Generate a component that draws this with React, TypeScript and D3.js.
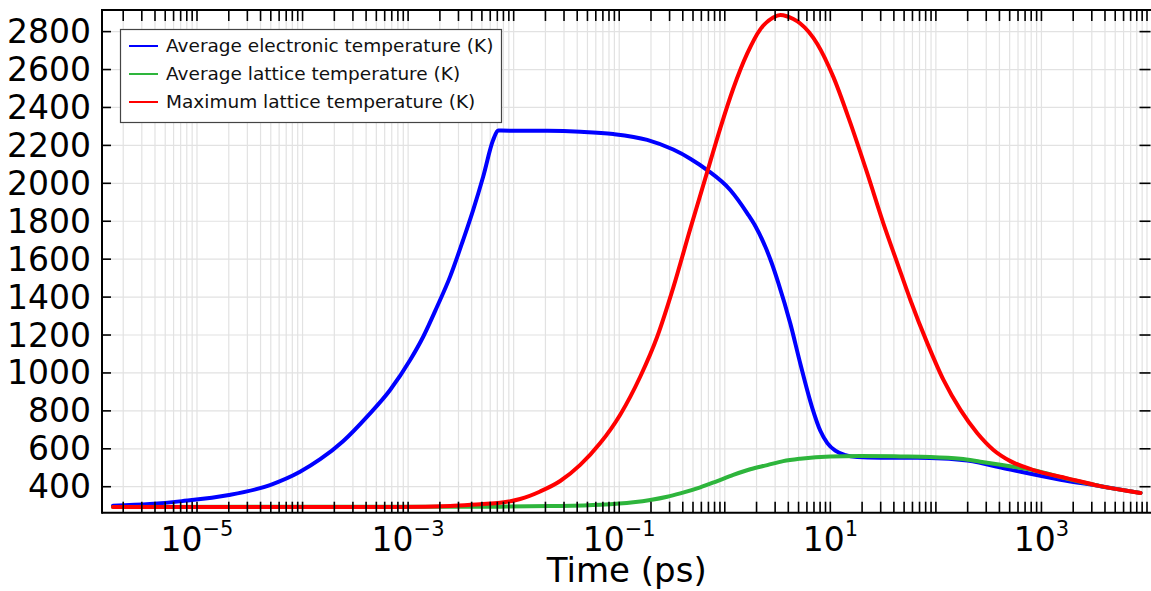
import React from 'react';
import * as d3 from 'd3';

// ---------- data (time in ps, temperature in K) ----------
const blueTime = [1.6e-6, 3.58e-6, 7.21e-6, 2.01e-5, 4.92e-5, 9.47e-5, 1.47e-4, 2.42e-4, 4.09e-4, 6.75e-4, 1.045e-3, 1.39e-3, 1.88e-3, 2.5e-3, 3.32e-3, 4.13e-3, 5.14e-3, 6.39e-3, 7.13e-3, 0.0208, 0.0427, 0.0877, 0.184, 0.325, 0.471, 0.682, 1.127, 1.634, 1.946, 2.317, 2.76, 3.215, 4.18, 5.19, 6.75, 8.04, 9.37, 11.15, 13.9, 18.0, 29.8, 88.7, 199, 508, 1514, 3624, 8680];
const blueTemp = [300, 309, 324, 356, 409, 479, 545, 640, 770, 910, 1068, 1191, 1349, 1508, 1701, 1859, 2035, 2228, 2278, 2277, 2272, 2260, 2229, 2178, 2130, 2070, 1965, 1842, 1775, 1690, 1585, 1475, 1260, 1050, 815, 695, 630, 590, 567, 557, 553, 552, 538, 490, 437, 403, 367];

const greenTime = [1.6e-6, 7.45e-3, 0.0222, 0.0661, 0.136, 0.197, 0.285, 0.379, 0.586, 0.849, 1.204, 1.745, 2.53, 3.58, 5.19, 10, 19.2, 46.1, 88.7, 171, 264, 409, 840, 1764, 3624, 8680];
const greenTemp = [293, 295, 298, 305, 318, 330, 347, 365, 397, 430, 462, 492, 514, 535, 548, 560, 562, 560, 557, 547, 532, 516, 487, 442, 403, 367];

const redTime = [1.6e-6, 8.4e-4, 2.5e-3, 4.81e-3, 7.45e-3, 0.01152, 0.01783, 0.0276, 0.0427, 0.0661, 0.1022, 0.158, 0.229, 0.325, 0.471, 0.682, 0.906, 1.204, 1.634, 2.17, 2.88, 3.36, 3.86, 4.46, 5.19, 7.53, 10.7, 15.5, 22.4, 31.8, 43.2, 57.3, 83.1, 118, 171, 247, 351, 508, 840, 1764, 3624, 8680];
const redTemp = [293, 293, 298, 308, 315, 335, 375, 430, 515, 630, 780, 980, 1191, 1450, 1760, 2060, 2290, 2500, 2685, 2812, 2874, 2887, 2881, 2866, 2843, 2735, 2560, 2317, 2052, 1789, 1578, 1385, 1156, 963, 805, 682, 594, 535, 488, 444, 403, 367];

const seriesNames = ['Average electronic temperature (K)', 'Average lattice temperature (K)', 'Maximum lattice temperature (K)'];
const seriesColors = ['#0000ff', '#2eb53c', '#ff0000'];

const yTicks = [400, 600, 800, 1000, 1200, 1400, 1600, 1800, 2000, 2200, 2400, 2600, 2800];
const xLabelExponents = [-5, -3, -1, 1, 3];
const xTitle = 'Time (ps)';

const X_DOMAIN: [number, number] = [Math.pow(10, -5.9), Math.pow(10, 4.0427)];
const Y_DOMAIN: [number, number] = [263, 2914];

const W = 1151;
const H = 591;
const L = 102;
const R = 1151.5;
const T = 10;
const B = 512.7;
const FONT = '"DejaVu Sans", Verdana, sans-serif';

export default function App() {
  const x = d3.scaleLog().domain(X_DOMAIN).range([L, R]);
  const y = d3.scaleLinear().domain(Y_DOMAIN).range([B, T]);

  const xTicks: number[] = [];
  for (let e = -7; e <= 5; e++) {
    for (let k = 1; k <= 9; k++) {
      const v = k * Math.pow(10, e);
      if (v >= X_DOMAIN[0] && v <= X_DOMAIN[1]) xTicks.push(v);
    }
  }

  const line = d3
    .line<[number, number]>()
    .x((d) => x(d[0]))
    .y((d) => y(d[1]))
    .curve(d3.curveMonotoneX);

  const series = [
    blueTime.map((t, i) => [t, blueTemp[i]] as [number, number]),
    greenTime.map((t, i) => [t, greenTemp[i]] as [number, number]),
    redTime.map((t, i) => [t, redTemp[i]] as [number, number]),
  ];

  const tickLen = 11;
  const yTickLen = 9;

  return (
    <svg
      width={W}
      height={H}
      style={{ position: 'absolute', left: 0, top: 0, background: '#fff' }}
      fontFamily={FONT}
    >
      <defs>
        <clipPath id="plotclip">
          <rect x={L} y={T} width={R - L} height={B - T} />
        </clipPath>
      </defs>
      <rect x={0} y={0} width={W} height={H} fill="#fff" />
      {/* grid */}
      <g stroke="#e2e2e2" strokeWidth={1.2}>
        {xTicks.map((v, i) => (
          <line key={'gx' + i} x1={x(v)} x2={x(v)} y1={T} y2={B} />
        ))}
        {yTicks.map((v, i) => (
          <line key={'gy' + i} x1={L} x2={R} y1={y(v)} y2={y(v)} />
        ))}
      </g>
      {/* curves */}
      <g clipPath="url(#plotclip)" fill="none" strokeWidth={4} strokeLinejoin="round" strokeLinecap="round">
        {series.map((s, i) => (
          <path key={'s' + i} d={line(s) || ''} stroke={seriesColors[i]} />
        ))}
      </g>
      {/* ticks */}
      <g stroke="#000" strokeWidth={1.6}>
        {xTicks.map((v, i) => (
          <g key={'tx' + i}>
            <line x1={x(v)} x2={x(v)} y1={B} y2={B - tickLen} />
            <line x1={x(v)} x2={x(v)} y1={T} y2={T + tickLen} />
          </g>
        ))}
        {yTicks.map((v, i) => (
          <g key={'ty' + i}>
            <line x1={L} x2={L + yTickLen} y1={y(v)} y2={y(v)} />
            <line x1={R - 1} x2={R - 1 - yTickLen - 2} y1={y(v)} y2={y(v)} />
          </g>
        ))}
      </g>
      {/* frame */}
      <g stroke="#000" strokeWidth={2} fill="none">
        <line x1={L} x2={L} y1={T - 1} y2={B + 1} />
        <line x1={L} x2={R} y1={T} y2={T} />
        <line x1={L} x2={R} y1={B} y2={B} />
      </g>
      {/* y tick labels */}
      <g fontSize={33} textAnchor="end" fill="#000">
        {yTicks.map((v, i) => (
          <text key={'ly' + i} x={L - 11} y={y(v)} dy="0.35em">
            {v}
          </text>
        ))}
      </g>
      {/* x tick labels */}
      <g fontSize={33} textAnchor="middle" fill="#000">
        {xLabelExponents.map((e, i) => (
          <text key={'lx' + i} x={x(Math.pow(10, e))} y={551}>
            <tspan>10</tspan>
            <tspan fontSize={21} dy={-15}>
              {e < 0 ? '\u2212' + Math.abs(e) : String(e)}
            </tspan>
          </text>
        ))}
      </g>
      <text x={(L + R) / 2} y={582} fontSize={34} textAnchor="middle" fill="#000">
        {xTitle}
      </text>
      {/* legend */}
      <g>
        <rect x={120.5} y={29.5} width={381} height={93} fill="#fff" stroke="#444" strokeWidth={1.2} />
        {seriesNames.map((n, i) => (
          <g key={'lg' + i}>
            <line x1={129} x2={158} y1={46 + i * 28} y2={46 + i * 28} stroke={seriesColors[i]} strokeWidth={2} />
            <text x={166} y={46 + i * 28} dy="0.35em" fontSize={18.5} fill="#111">
              {n}
            </text>
          </g>
        ))}
      </g>
    </svg>
  );
}
